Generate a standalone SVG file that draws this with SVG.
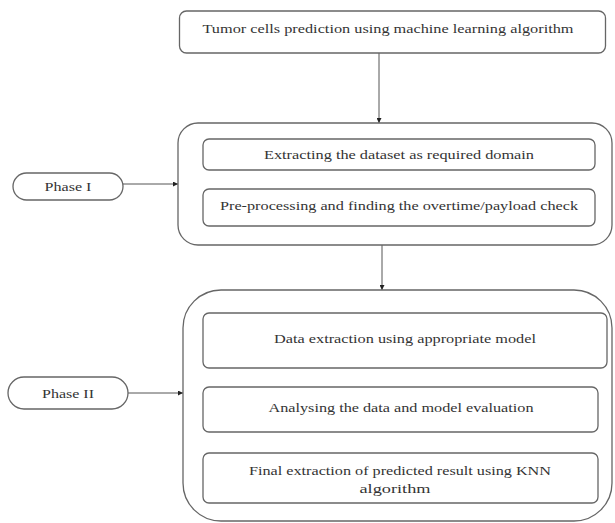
<svg xmlns="http://www.w3.org/2000/svg" width="615" height="523" viewBox="0 0 615 523">
<style>
.box{fill:#fff;stroke:#666;stroke-width:1.3}
.t{font-family:"Liberation Serif","Times New Roman",serif;font-size:13px;fill:#333;text-anchor:middle}
.c{fill:none;stroke:#555;stroke-width:1}
</style>
<defs>
<marker id="ah" viewBox="0 0 6 6" refX="6" refY="3" markerWidth="5" markerHeight="5" orient="auto" markerUnits="userSpaceOnUse">
<path d="M0,0L6,3L0,6z" fill="#222"/>
</marker>
</defs>
<rect width="615" height="523" fill="#fff"/>
<g id="connectors">
<line class="c" x1="379" y1="53" x2="379" y2="123" marker-end="url(#ah)"/>
<line class="c" x1="382" y1="245" x2="382" y2="290" marker-end="url(#ah)"/>
<line class="c" x1="123" y1="184" x2="178" y2="184" marker-end="url(#ah)"/>
<line class="c" x1="128" y1="393" x2="183" y2="393" marker-end="url(#ah)"/>
</g>
<g id="top">
<rect class="box" x="179.5" y="11" width="426" height="42" rx="7"/>
<text class="t" x="388" y="33" textLength="371" lengthAdjust="spacingAndGlyphs">Tumor cells prediction using machine learning algorithm</text>
</g>
<g id="phase1-group">
<rect class="box" x="178" y="123" width="434" height="122" rx="20"/>
</g>
<g id="p1a">
<rect class="box" x="203" y="139" width="392" height="31" rx="6"/>
<text class="t" x="399" y="158.5" textLength="270" lengthAdjust="spacingAndGlyphs">Extracting the dataset as required domain</text>
</g>
<g id="p1b">
<rect class="box" x="203" y="189" width="392" height="37" rx="6"/>
<text class="t" x="399" y="209.5" textLength="358" lengthAdjust="spacingAndGlyphs">Pre-processing and finding the overtime/payload check</text>
</g>
<g id="phase1">
<rect class="box" x="13" y="173" width="110" height="27" rx="13.5"/>
<text class="t" x="68" y="190.5" textLength="47" lengthAdjust="spacingAndGlyphs">Phase I</text>
</g>
<g id="phase2-group">
<rect class="box" x="183" y="290" width="429" height="231" rx="38"/>
</g>
<g id="p2a">
<rect class="box" x="203" y="313" width="404" height="55" rx="6"/>
<text class="t" x="405" y="342.5" textLength="262" lengthAdjust="spacingAndGlyphs">Data extraction using appropriate model</text>
</g>
<g id="p2b">
<rect class="box" x="203" y="387" width="395" height="45" rx="6"/>
<text class="t" x="401" y="411.5" textLength="265" lengthAdjust="spacingAndGlyphs">Analysing the data and model evaluation</text>
</g>
<g id="p2c">
<rect class="box" x="203" y="453" width="395" height="50" rx="6"/>
<text class="t" x="400" y="474.5" textLength="302" lengthAdjust="spacingAndGlyphs">Final extraction of predicted result using KNN</text>
<text class="t" x="395" y="492.5" textLength="71" lengthAdjust="spacingAndGlyphs">algorithm</text>
</g>
<g id="phase2">
<rect class="box" x="8" y="377" width="120" height="32" rx="16"/>
<text class="t" x="68" y="397.5" textLength="52" lengthAdjust="spacingAndGlyphs">Phase II</text>
</g>
</svg>
